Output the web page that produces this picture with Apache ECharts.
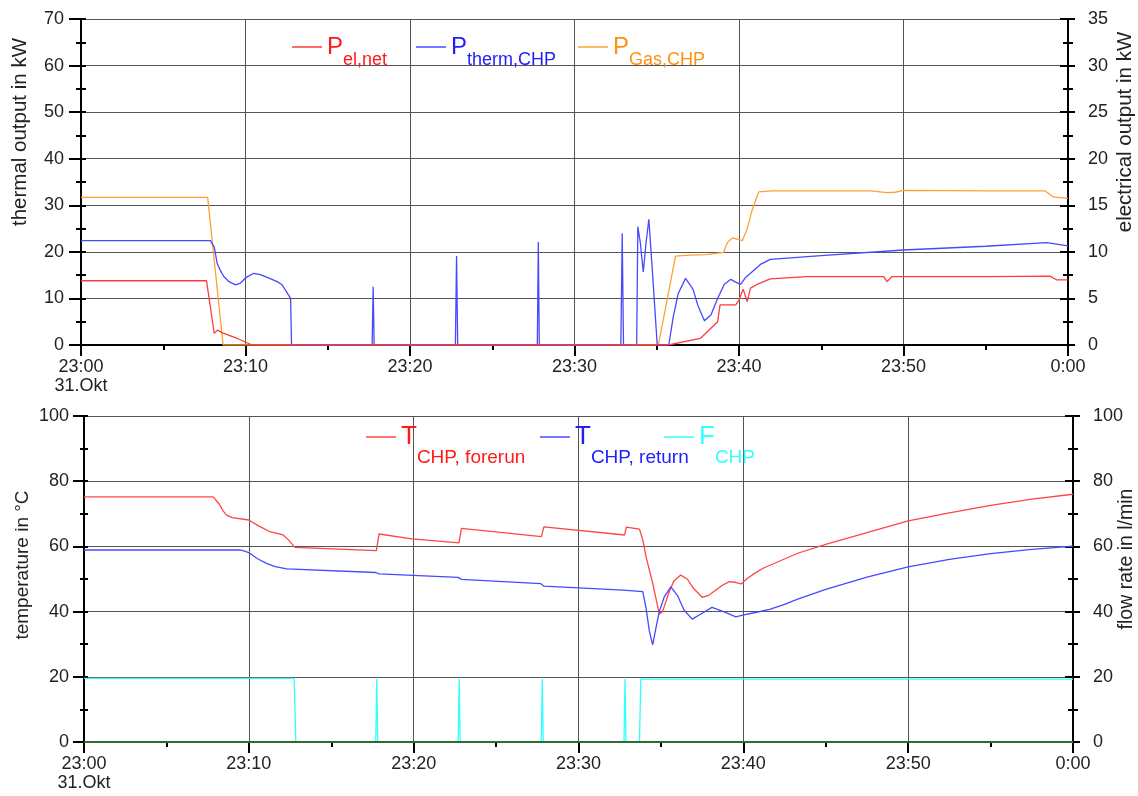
<!DOCTYPE html>
<html><head><meta charset="utf-8">
<script src="https://cdn.jsdelivr.net/npm/echarts@6/dist/echarts.min.js"></script>
<style>html,body{margin:0;padding:0;background:#fff}#c{width:1138px;height:796px}</style>
</head><body><div id="c"></div>
<script>
// ---- data (time in minutes after 23:00 on 31 Oct) ----
const tickLabels = ['23:00\n31.Okt', '23:10', '23:20', '23:30', '23:40', '23:50', '0:00'];

// top chart: thermal (left axis, kW) and electrical (right axis, kW)
const gasT  = [0, 7.7, 8.64, 35.1, 36.14, 37.0, 38.0, 39.06, 39.3, 39.6, 40.0, 40.2, 40.5, 40.8, 41.2, 42, 45, 48, 49, 49.5, 50, 55, 58.6, 59.1, 60];
const gasV  = [31.7, 31.7, 0, 0, 19.1, 19.3, 19.4, 19.9, 22.0, 23.0, 22.6, 22.4, 25.0, 29.0, 32.9, 33.1, 33.1, 33.1, 32.7, 32.8, 33.2, 33.1, 33.1, 31.8, 31.5];
const thermT = [0, 7.87, 8.1, 8.28, 8.5, 8.68, 9.0, 9.39, 9.7, 10.0, 10.5, 10.9, 11.32, 11.93, 12.2, 12.43, 12.6, 12.74, 12.8, 17.7, 17.76, 17.82, 22.76, 22.83, 22.9, 27.74, 27.8, 27.86, 32.82, 32.9, 32.98, 33.78, 33.85, 34.0, 34.18, 34.35, 34.52, 34.75, 35.03, 35.73, 36.0, 36.3, 36.75, 37.2, 37.5, 37.9, 38.3, 38.7, 39.1, 39.5, 39.8, 40.1, 40.4, 40.7, 41.3, 41.9, 45, 50, 55, 58.7, 60];
const thermV = [22.4, 22.4, 21.0, 17.5, 15.8, 14.7, 13.6, 12.9, 13.3, 14.4, 15.4, 15.1, 14.5, 13.6, 13.0, 11.8, 10.8, 10, 0, 0, 12.5, 0, 0, 19.1, 0, 0, 22.1, 0, 0, 24, 0, 0, 25.4, 22, 15.7, 22, 27, 15, 0, 0, 6, 11, 14.3, 12, 8.5, 5.2, 6.5, 10, 13, 14.1, 13.5, 13, 14.5, 15.4, 17.3, 18.4, 19.2, 20.4, 21.2, 22, 21.3];
const elT = [0, 7.63, 8.1, 8.3, 8.6, 9.5, 10.4, 35.7, 37.65, 38.7, 38.85, 39.8, 40.0, 40.25, 40.5, 40.7, 41.2, 41.9, 44.1, 48.8, 49.0, 49.3, 55, 58.9, 59.3, 60];
const elV = [6.9, 6.9, 1.25, 1.6, 1.3, 0.7, 0, 0, 0.7, 2.5, 4.3, 4.3, 4.85, 6.0, 4.65, 6.1, 6.6, 7.1, 7.35, 7.35, 6.8, 7.35, 7.35, 7.4, 7.0, 7.0];

// bottom chart: temperatures (left axis, °C) and flow rate (right axis, l/min)
const fwdT = [0, 7.84, 8.2, 8.45, 8.65, 9.0, 10.0, 10.6, 11.27, 12.08, 12.4, 12.8, 17.74, 17.9, 19.9, 22.75, 22.9, 27.75, 27.9, 32.8, 32.9, 33.7, 33.9, 34.1, 34.5, 34.7, 34.9, 35.1, 35.5, 35.8, 36.2, 36.6, 37.0, 37.5, 37.9, 38.3, 38.7, 39.15, 39.5, 39.86, 40.2, 40.7, 41.2, 43.3, 45, 47.5, 50, 52.5, 55, 57.5, 60];
const fwdV = [75.2, 75.2, 73, 70.8, 69.6, 68.8, 68.1, 66.3, 64.5, 63.5, 62, 59.7, 58.7, 63.8, 62.3, 61.1, 65.5, 63.0, 66.0, 63.5, 65.9, 65.3, 62, 56.8, 48.7, 44, 39.3, 40, 46.1, 49.5, 51.2, 50, 47, 44.4, 45, 46.5, 48, 49.2, 49, 48.5, 50, 51.8, 53.3, 57.9, 60.6, 64.2, 67.8, 70.3, 72.6, 74.5, 76];
const retT = [0, 9.45, 9.8, 10.06, 10.5, 11.07, 11.6, 12.3, 17.7, 17.9, 22.7, 22.9, 27.7, 27.9, 32.7, 33.9, 34.1, 34.3, 34.5, 34.7, 34.9, 35.2, 35.6, 36.0, 36.4, 36.9, 37.5, 38.1, 38.8, 39.55, 39.96, 40.8, 41.6, 42.5, 43.3, 45, 47.5, 50, 52.5, 55, 57.5, 60];
const retV = [58.9, 58.9, 58.5, 57.9, 56.3, 54.8, 53.8, 53.1, 52.0, 51.6, 50.5, 49.9, 48.6, 47.8, 46.6, 46.1, 41, 34, 29.8, 35, 40, 44.5, 47.6, 45, 40.5, 37.7, 39.5, 41.3, 40, 38.4, 38.9, 39.8, 40.7, 42.2, 43.8, 46.8, 50.6, 53.7, 56, 57.8, 59.1, 60.1];
const flowT = [0, 12.75, 12.85, 17.7, 17.76, 17.82, 22.7, 22.76, 22.82, 27.74, 27.8, 27.86, 32.76, 32.82, 32.88, 33.7, 33.78, 60];
const flowV = [19.5, 19.5, 0, 0, 19.3, 0, 0, 19.3, 0, 0, 19.3, 0, 0, 19.3, 0, 0, 19.3, 19.3];
const zeroT = [0, 60];
const zeroV = [0, 0];

// ---- build ----
const FONT = '"Liberation Sans", Arial, sans-serif';
const zip = (t, v) => t.map((x, i) => [x, v[i]]);

function xAxis(gi) {
  return {
    type: 'value', gridIndex: gi, min: 0, max: 60, interval: 10,
    axisLine: { onZero: false, lineStyle: { color: '#000', width: 2 } },
    axisTick: { length: 11, lineStyle: { color: '#000', width: 2 } },
    minorTick: { show: true, splitNumber: 2, length: 5, lineStyle: { color: '#000', width: 2 } },
    splitLine: { show: true, lineStyle: { color: '#555', width: 1 } },
    axisLabel: { formatter: v => tickLabels[Math.round(v / 10)], fontSize: 18, color: '#222',
      margin: 13, lineHeight: 19, fontFamily: FONT }
  };
}
function yAxis(gi, pos, max, interval, name, gap, shift, nameSize, split, tickOut, minorOut, margin) {
  return {
    type: 'value', gridIndex: gi, position: pos, min: 0, max: max, interval: interval,
    name: name, nameLocation: 'middle', nameRotate: 90, nameGap: gap, nameMoveOverlap: false,
    nameTextStyle: { fontSize: nameSize, color: '#222', fontFamily: FONT, padding: [0, 0, 0, shift] },
    axisLine: { show: true, lineStyle: { color: '#000', width: 2 } },
    axisTick: { length: tickOut, lineStyle: { color: '#000', width: 2 } },
    minorTick: { show: true, splitNumber: 2, length: minorOut, lineStyle: { color: '#000', width: 2 } },
    splitLine: { show: split, lineStyle: { color: '#555', width: 1 } },
    axisLabel: { fontSize: 18, color: '#222', margin: margin, fontFamily: FONT }
  };
}
// companion axis: only the inner half of the crossing ticks
function innerTicks(gi, pos, max, interval, tickIn, minorIn) {
  return {
    type: 'value', gridIndex: gi, position: pos, min: 0, max: max, interval: interval,
    axisLine: { show: false }, axisLabel: { show: false }, splitLine: { show: false },
    axisTick: { show: true, inside: true, length: tickIn, lineStyle: { color: '#000', width: 2 } },
    minorTick: { show: true, splitNumber: 2, length: minorIn, lineStyle: { color: '#000', width: 2 } }
  };
}
function line(name, data, color, xi, yi, w) {
  return { name: name, type: 'line', xAxisIndex: xi, yAxisIndex: yi, data: data,
    symbol: 'none', showSymbol: false, animation: false,
    lineStyle: { color: color, width: w || 1.3 }, itemStyle: { color: color } };
}
function legend(name, left, top, color, big, sub, H, h2, bigSize, subSize) {
  return {
    data: [name], left: left, top: top, padding: 0, itemWidth: 30, itemHeight: 1.5,
    icon: 'rect', selectedMode: false,
    formatter: () => '{b|' + big + '}{s|' + sub + '}{sp| }',
    textStyle: { rich: {
      b: { fontSize: bigSize, color: color, fontFamily: FONT, verticalAlign: 'middle' },
      s: { fontSize: subSize, color: color, fontFamily: FONT, lineHeight: h2, verticalAlign: 'bottom' },
      sp: { fontSize: 1, lineHeight: H }
    } }
  };
}

const option = {
  backgroundColor: '#fff',
  animation: false,
  grid: [
    { left: 81, right: 70, top: 19, height: 326, outerBoundsMode: 'none' },
    { left: 84, right: 65, top: 416, height: 326, outerBoundsMode: 'none' }
  ],
  xAxis: [xAxis(0), xAxis(1)],
  yAxis: [
    yAxis(0, 'left', 70, 10, 'thermal output in kW', 50, 100, 20.5, true, 12, 5, 17),
    yAxis(0, 'right', 35, 5, 'electrical output in kW', 47, 100, 20.5, false, 7, 5, 20),
    yAxis(1, 'left', 100, 20, 'temperature in °C', 52, 28, 19, true, 11, 4, 15),
    yAxis(1, 'right', 100, 20, 'flow rate in l/min', 44, 40, 19.5, false, 7, 5, 20),
    innerTicks(0, 'left', 70, 10, 5, 5),
    innerTicks(0, 'right', 35, 5, 8, 5),
    innerTicks(1, 'left', 100, 20, 4, 4),
    innerTicks(1, 'right', 100, 20, 8, 5)
  ],
  legend: [
    legend('Pel,net', 292, 35, '#ff1a1a', 'P', 'el,net', 44, 35, 24, 18),
    legend('Ptherm,CHP', 416, 35, '#2020ff', 'P', 'therm,CHP', 44, 35, 24, 18),
    legend('PGas,CHP', 578, 35, '#ff9010', 'P', 'Gas,CHP', 44, 35, 24, 18),
    legend('TCHP, forerun', 366, 424, '#ff1a1a', 'T', 'CHP, forerun', 60, 53, 26, 19),
    legend('TCHP, return', 540, 424, '#2020ff', 'T', 'CHP, return', 60, 53, 26, 19),
    legend('FCHP', 664, 424, '#33ffff', 'F', 'CHP', 60, 53, 26, 19)
  ],
  series: [
    line('PGas,CHP', zip(gasT, gasV), '#ffa030', 0, 0),
    line('Ptherm,CHP', zip(thermT, thermV), '#4848ff', 0, 0),
    line('Pel,net', zip(elT, elV), '#ff3b3b', 0, 1),
    line('FCHP', zip(flowT, flowV), '#30ffff', 1, 3),
    line('TCHP, forerun', zip(fwdT, fwdV), '#ff4545', 1, 2),
    line('TCHP, return', zip(retT, retV), '#4848ff', 1, 2),
    line('zero', zip(zeroT, zeroV), '#2f6b2f', 1, 3, 2)
  ]
};
const chart = echarts.init(document.getElementById('c'), null, { renderer: 'canvas' });
chart.setOption(option);
</script>
</body></html>
